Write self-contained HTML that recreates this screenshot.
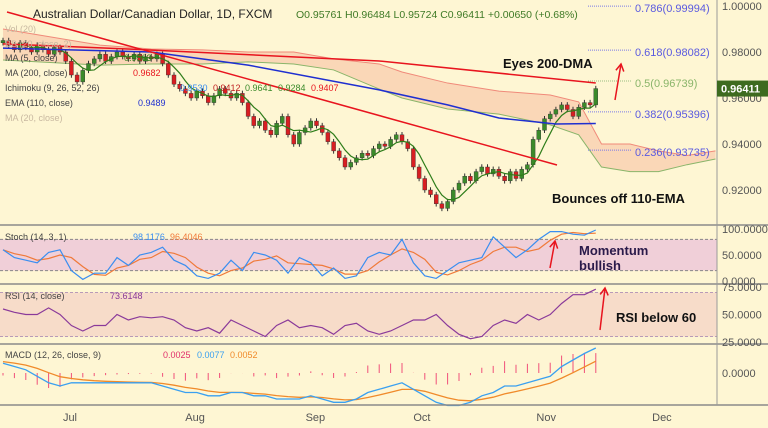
<!DOCTYPE html>
<html><head><meta charset="utf-8">
<style>
html,body{margin:0;padding:0;background:#fef6d3;}
svg{display:block;font-family:"Liberation Sans",sans-serif;}
</style></head>
<body>
<svg id="c" width="768" height="428" viewBox="0 0 768 428">
<rect x="0" y="0" width="768" height="428" fill="#fef6d3"/>
<g id="main"></g>
<g id="stoch"></g>
<g id="rsi"></g>
<g id="macd"></g>
<g id="axes"></g>
<g id="overlay"></g>
</svg>
<script>
const closes=[0.985,0.983,0.981,0.984,0.982,0.980,0.983,0.981,0.979,0.982,0.980,
0.976,0.970,0.967,0.972,0.975,
0.977,0.979,0.976,0.978,0.980,
0.978,0.977,0.979,0.976,0.978,0.977,0.979,0.975,
0.970,0.966,0.964,0.962,0.960,0.963,0.961,
0.958,0.961,0.964,0.962,0.960,0.962,0.958,
0.952,0.948,0.950,0.946,0.944,0.949,0.952,0.944,
0.940,0.945,0.947,0.950,0.948,
0.945,0.941,0.937,0.934,0.930,
0.932,0.934,0.936,0.935,0.938,0.940,0.939,
0.942,0.944,0.941,0.938,
0.930,0.925,0.920,0.918,0.914,0.912,0.915,
0.920,0.923,0.926,0.924,0.928,0.930,0.927,
0.929,0.926,0.924,0.928,0.925,0.929,0.931,
0.942,0.946,0.951,0.953,0.955,
0.957,0.955,0.952,0.956,0.958,0.957,0.9641];
const firstOpen=0.984;
const wick=0.0012;
const ma200Idx=[0,22,66,104];
const ma200Val=[0.9835,0.9813,0.9761,0.9665];
const ema110Idx=[0,26,43,66,78,87,97,104];
const ema110Val=[0.9817,0.9800,0.9743,0.9635,0.9570,0.9513,0.9487,0.9489];
const cloudIdx=[0,17,26,35,43,51,58,66,70,78,87,96,101,105,110,115,120,125];
const cloudUp=[0.9900,0.9830,0.9813,0.9809,0.9800,0.9800,0.9770,0.9748,0.9713,0.9665,0.9630,0.9613,0.9583,0.9400,0.9400,0.9370,0.9350,0.9370];
const cloudLo=[0.9765,0.9743,0.9748,0.9748,0.9757,0.9748,0.9722,0.9639,0.9600,0.9552,0.9530,0.9483,0.9440,0.9300,0.9280,0.9280,0.9310,0.9335];
const fibRatio=["0.786","0.618","0.5","0.382","0.236"];
const fibVal=[0.99994,0.98082,0.96739,0.95396,0.93735];
const priceTicks=[1.00000,0.98000,0.96000,0.94000,0.92000];
const stochK=[60,45,40,35,55,60,20,3,15,15,45,30,50,55,65,40,30,10,5,15,40,20,55,50,40,15,45,35,10,25,5,10,45,55,50,80,35,10,5,20,35,40,45,85,65,45,60,80,95,95,90,88,98];
const rsiVals=[55,52,50,50,56,50,40,35,40,40,50,45,48,47,48,45,38,35,38,33,45,40,35,30,40,45,38,40,38,32,40,42,35,32,35,40,45,45,50,40,32,28,30,40,45,42,50,45,50,60,68,68,73];
const macdVals=[0.003,0.002,0.001,-0.001,-0.003,-0.004,-0.003,-0.003,-0.003,-0.003,-0.003,-0.003,-0.003,-0.003,-0.004,-0.005,-0.006,-0.006,-0.007,-0.007,-0.006,-0.006,-0.007,-0.007,-0.008,-0.008,-0.008,-0.007,-0.008,-0.009,-0.009,-0.008,-0.006,-0.005,-0.004,-0.003,-0.005,-0.007,-0.009,-0.010,-0.010,-0.009,-0.007,-0.006,-0.004,-0.004,-0.003,-0.002,-0.001,0.002,0.004,0.006,0.0077];
const dateLabels=["Jul","Aug","Sep","Oct","Nov","Dec"];
const dateIdx=[11.75,33.7,54.8,73.5,95.3,115.6];
const stochTicks=["100.0000","50.0000","0.0000"];
const stochTickVals=[100,50,0];
const rsiTicks=["75.0000","50.0000","25.0000"];
const rsiTickVals=[75,50,25];

const NS="http://www.w3.org/2000/svg";
function mk(p,t,a,txt){const e=document.createElementNS(NS,t);for(const k in a)e.setAttribute(k,a[k]);if(txt!==undefined)e.textContent=txt;p.appendChild(e);return e;}
const X=i=>3+i*5.7;
const Y=p=>6+(1-p)*2300;
const SY=v=>281-v*0.52;
const RY=v=>287+(75-v)*1.1;
const MY=v=>373-v*3250;
const X2=j=>X(j*2);
const main=document.getElementById('main'),stoch=document.getElementById('stoch'),rsi=document.getElementById('rsi'),macd=document.getElementById('macd'),axes=document.getElementById('axes');
const pts=(xs,ys)=>xs.map((x,i)=>x.toFixed(1)+','+ys[i].toFixed(1)).join(' ');

let up=cloudIdx.map((c,i)=>[X(c),Y(cloudUp[i])]),lo=cloudIdx.map((c,i)=>[X(c),Y(cloudLo[i])]);
let cl=mk(main,'polygon',{points:up.concat(lo.slice().reverse()).map(p=>p.join(',')).join(' '),fill:'#f9cfb0',opacity:'0.8'});

let cu=mk(main,'polyline',{points:up.map(p=>p.join(',')).join(' '),fill:'none',stroke:'#f08a7a','stroke-width':1});

let cd=mk(main,'polyline',{points:lo.map(p=>p.join(',')).join(' '),fill:'none',stroke:'#8ab56a','stroke-width':1});


for(let i=0;i<closes.length;i++){
  const o=i?closes[i-1]:firstOpen,c=closes[i];
  const hi=Math.max(o,c)+wick,lw=Math.min(o,c)-wick;
  const col=c>=o?'#3b8a2a':'#d81e22';
  const g=mk(main,'g',{});
  
  mk(g,'line',{x1:X(i),x2:X(i),y1:Y(hi),y2:Y(lw),stroke:'#333','stroke-width':1});
  mk(g,'rect',{x:X(i)-2,y:Y(Math.max(o,c)),width:4,height:Math.max(1,Math.abs(Y(o)-Y(c))),fill:col,stroke:'#333','stroke-width':0.4});
}
let m5=[];for(let i=4;i<closes.length;i++){let s=0;for(let k=0;k<5;k++)s+=closes[i-k];m5.push([X(i),Y(s/5)]);}
let m5l=mk(main,'polyline',{points:m5.map(p=>p.join(',')).join(' '),fill:'none',stroke:'#2e7d1a','stroke-width':1.2});

let l200=mk(main,'polyline',{points:pts(ma200Idx.map(X),ma200Val.map(Y)),fill:'none',stroke:'#e8141e','stroke-width':1.5});

let l110=mk(main,'polyline',{points:pts(ema110Idx.map(X),ema110Val.map(Y)),fill:'none',stroke:'#1f2fd0','stroke-width':1.5});

let tl=mk(main,'line',{x1:7,y1:12,x2:557,y2:165,stroke:'#e8141e','stroke-width':1.5});


fibVal.forEach((v,i)=>{
  const y=Y(v);
  const l=mk(main,'line',{x1:588,x2:632,y1:y,y2:y,stroke:i==2?'#9abf80':'#7a7ae8','stroke-dasharray':'1,1'});
  
  const t=mk(main,'text',{x:635,y:y+6,'font-size':11,fill:i==2?'#8ab56a':'#5a5ae0'},fibRatio[i]+'('+v.toFixed(5)+')');
  
});

let sb=mk(stoch,'rect',{x:0,y:SY(80),width:717,height:SY(20)-SY(80),fill:'#ecc6d9',opacity:0.8});

[80,20].forEach(v=>{let l=mk(stoch,'line',{x1:0,x2:717,y1:SY(v),y2:SY(v),stroke:'#888','stroke-dasharray':'3,2'});});
const stochD=stochK.map((v,i)=>{const a=stochK.slice(Math.max(0,i-2),i+1);return a.reduce((s,x)=>s+x,0)/a.length;});
let sd=mk(stoch,'polyline',{points:pts(stochD.map((v,i)=>X2(i)),stochD.map(SY)),fill:'none',stroke:'#f07a3a','stroke-width':1.2});

let sk=mk(stoch,'polyline',{points:pts(stochK.map((v,i)=>X2(i)),stochK.map(SY)),fill:'none',stroke:'#3a8ef0','stroke-width':1.2});


let rb=mk(rsi,'rect',{x:0,y:RY(70),width:717,height:RY(30)-RY(70),fill:'#f6d9c8',opacity:0.9});

[70,30].forEach(v=>{let l=mk(rsi,'line',{x1:0,x2:717,y1:RY(v),y2:RY(v),stroke:'#b89ab8','stroke-dasharray':'3,2'});});
let rl=mk(rsi,'polyline',{points:pts(rsiVals.map((v,i)=>X2(i)),rsiVals.map(RY)),fill:'none',stroke:'#8a3a9a','stroke-width':1.2});


let sig=[];macdVals.forEach((v,i)=>{sig.push(i?sig[i-1]+(v-sig[i-1])*0.3:v+0.0005);});
macdVals.forEach((v,i)=>{const h=v-sig[i];const b=mk(macd,'line',{x1:X2(i),x2:X2(i),y1:MY(0),y2:MY(h*1.5),stroke:'#f0507a','stroke-width':1});});
let ms=mk(macd,'polyline',{points:pts(sig.map((v,i)=>X2(i)),sig.map(MY)),fill:'none',stroke:'#f08a2a','stroke-width':1.3});

let ml=mk(macd,'polyline',{points:pts(macdVals.map((v,i)=>X2(i)),macdVals.map(MY)),fill:'none',stroke:'#3aa0f0','stroke-width':1.3});


[225,284,344,405].forEach(y=>{let l=mk(axes,'line',{x1:0,x2:768,y1:y,y2:y,stroke:'#8a8a8a','stroke-width':1.5});});
let ra=mk(axes,'line',{x1:717,x2:717,y1:0,y2:405,stroke:'#9a9a9a'});
priceTicks.forEach(v=>{let t=mk(axes,'text',{x:722,y:Y(v)+4,'font-size':11,fill:'#555'},v.toFixed(5));});
stochTicks.forEach((s,i)=>{let t=mk(axes,'text',{x:722,y:SY(stochTickVals[i])+4,'font-size':11,fill:'#555'},s);});
rsiTicks.forEach((s,i)=>{let t=mk(axes,'text',{x:722,y:RY(rsiTickVals[i])+4,'font-size':11,fill:'#555'},s);});
let mt=mk(axes,'text',{x:722,y:MY(0)+4,'font-size':11,fill:'#555'},'0.0000');
dateLabels.forEach((d,i)=>{let t=mk(axes,'text',{x:X(dateIdx[i]),y:421,'font-size':11,fill:'#555','text-anchor':'middle'},d);});
let pb=mk(axes,'rect',{x:717,y:Y(closes[closes.length-1])-8,width:51,height:16,fill:'#3d6b1f'});
let pt=mk(axes,'text',{x:721,y:Y(closes[closes.length-1])+4,'font-size':11,fill:'#fff','font-weight':'bold'},'0.96411');
</script>
<script>
const o2=document.getElementById('overlay');
function T(x,y,s,t,fill,name,extra){const e=document.createElementNS("http://www.w3.org/2000/svg",'text');e.setAttribute('x',x);e.setAttribute('y',y);e.setAttribute('font-size',s);e.setAttribute('fill',fill);if(extra)for(const k in extra)e.setAttribute(k,extra[k]);e.textContent=t;


o2.appendChild(e);return e;}
T(33,18,12,'Australian Dollar/Canadian Dollar, 1D, FXCM','#222','chart-title');
T(296,18,10.5,'O0.95761  H0.96484  L0.95724  C0.96411  +0.00650 (+0.68%)','#3f7a26','ohlc-values',{'xml:space':'preserve'});
T(5,32,9,'Vol (20)','#c8b8a0','legend-vol');
T(5,47,9,'BB (20, close, 2)','#c8b8a0','legend-bb');
T(5,61,9,'MA (5, close)','#444','legend-ma5');
T(124,61,9,'0.9563','#2e7d1a','legend-ma5-value');
T(5,76,9,'MA (200, close)','#444','legend-ma200');
T(133,76,9,'0.9682','#e8141e','legend-ma200-value');
T(5,91,9,'Ichimoku (9, 26, 52, 26)','#444','legend-ichimoku');
T(180,91,9,'0.9530','#3a8ef0','ichimoku-value');
T(213,91,9,'0.9412','#c02020','ichimoku-value');
T(245,91,9,'0.9641','#3b8a2a','ichimoku-value');
T(278,91,9,'0.9284','#3b8a2a','ichimoku-value');
T(311,91,9,'0.9407','#e8141e','ichimoku-value');
T(5,106,9,'EMA (110, close)','#444','legend-ema110');
T(138,106,9,'0.9489','#1f2fd0','legend-ema110-value');
T(5,121,9,'MA (20, close)','#c8b8a0','legend-ma20');
T(5,240,9,'Stoch (14, 3, 1)','#444','legend-stoch');
T(133,240,9,'98.1176','#3a8ef0','stoch-k-value');
T(170,240,9,'96.4046','#f07a3a','stoch-d-value');
T(5,299,9,'RSI (14, close)','#444','legend-rsi');
T(110,299,9,'73.6148','#8a3a9a','rsi-value');
T(5,358,9,'MACD (12, 26, close, 9)','#444','legend-macd');
T(163,358,9,'0.0025','#e0306a','macd-hist-value');
T(197,358,9,'0.0077','#3aa0f0','macd-value');
T(230,358,9,'0.0052','#f08a2a','macd-signal-value');
T(503,68,13,'Eyes 200-DMA','#111','annotation-eyes-200dma',{'font-weight':'bold'});
T(552,203,13,'Bounces off 110-EMA','#111','annotation-bounces-110ema',{'font-weight':'bold'});
T(579,255,13,'Momentum','#2a1a4a','annotation-momentum',{'font-weight':'bold'});
T(579,270,13,'bullish','#2a1a4a','annotation-bullish',{'font-weight':'bold'});
T(616,322,13,'RSI below 60','#111','annotation-rsi',{'font-weight':'bold'});
[[615,100,621,64],[550,268,555,241],[600,330,605,288]].forEach(a=>{
  const g=document.createElementNS("http://www.w3.org/2000/svg",'g');
  
  
  const dx=a[2]-a[0],dy=a[3]-a[1],L=Math.hypot(dx,dy),ux=dx/L,uy=dy/L;
  g.innerHTML=`<line x1="${a[0]}" y1="${a[1]}" x2="${a[2]}" y2="${a[3]}" stroke="#e8141e" stroke-width="1.5"/><polyline points="${a[2]-ux*7-uy*4},${a[3]-uy*7+ux*4} ${a[2]},${a[3]} ${a[2]-ux*7+uy*4},${a[3]-uy*7-ux*4}" fill="none" stroke="#e8141e" stroke-width="1.5"/>`;
  o2.appendChild(g);
});
</script>
</body></html>
